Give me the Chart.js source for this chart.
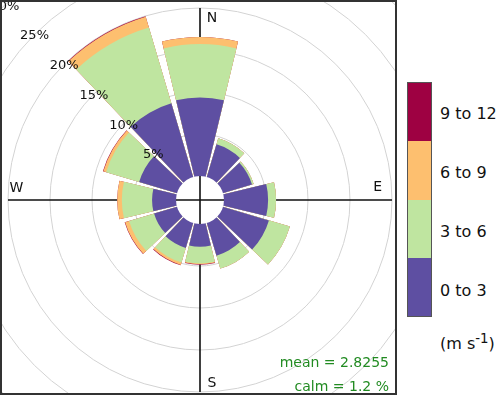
<!DOCTYPE html>
<html>
<head>
<meta charset="utf-8">
<script src="https://cdn.jsdelivr.net/npm/chart.js@4.4.1/dist/chart.umd.min.js"></script>
<style>
html,body{margin:0;padding:0;background:#fff;width:498px;height:399px;overflow:hidden;font-family:"DejaVu Sans",sans-serif;}
#plot{position:absolute;left:0;top:0;width:397px;height:395px;border:2px solid #333;box-sizing:border-box;overflow:hidden;background:#fff;}
#wrap{position:absolute;left:-78px;top:-78px;width:552px;height:552px;}
#stats{position:absolute;right:6px;top:348px;text-align:right;color:#228B22;font-size:14px;line-height:24px;white-space:pre;}
.seg{position:absolute;left:407px;width:25px;box-sizing:border-box;border-left:1px solid #555;border-right:1px solid #555;}
.lab{position:absolute;left:440px;font-size:16px;color:#111;white-space:nowrap;line-height:18px;}
</style>
</head>
<body>
<div id="plot"><div id="wrap"><canvas id="c" width="552" height="552"></canvas></div>
<div id="stats"></div></div>
<div id="legend"></div>
<script>
// ---- data ----
const directions = [0, 30, 60, 90, 120, 150, 180, 210, 240, 270, 300, 330];
const speedBins = ['0 to 3', '3 to 6', '6 to 9', '9 to 12'];
const binColors = ['#5E4FA2', '#BFE5A0', '#FDBF6F', '#9E0142'];
const freq0to3  = [9.35, 4.05, 3.6, 5.25, 5.7, 4.05, 2.7, 3.1, 2.85, 2.85, 4.7, 9.15];
const freq3to6  = [6.35, 0.75, 0.2, 0.95, 2.6, 1.6, 2.0, 1.8, 3.1, 3.6, 4.1, 9.4];
const freq6to9  = [0.85, 0, 0, 0, 0, 0, 0.1, 0.3, 0.5, 0.55, 0.35, 1.35];
const freq9to12 = [0, 0, 0, 0, 0, 0, 0.05, 0.05, 0.05, 0, 0.05, 0.06];
const gridTicks = [5, 10, 15, 20, 25, 30];
const tickLabels = ['5%', '10%', '15%', '20%', '25%', '30%'];
const cardinals = ['N', 'E', 'S', 'W'];
const meanText = 'mean = 2.8255';
const calmText = 'calm = 1.2 %';
const unitText = '(m s<sup>-1</sup>)';

// ---- styling constants ----
const PETAL = 27, GAP = 3;          // degrees
const R_MIN = -2.857, R_MAX = 30;   // radial offset creates the calm hole
const AXIS_EXT = 20;                // cross lines extend to this %

const bins = [freq0to3, freq3to6, freq6to9, freq9to12];
const cum = bins.map((b, k) => directions.map((d, i) => {
  let s = 0; for (let j = 0; j <= k; j++) s += bins[j][i]; return s;
}));
const labels = [];
directions.forEach(d => { labels.push(String(d)); labels.push(''); });
const datasets = cum.map((vals, k) => {
  const data = [];
  vals.forEach(v => { data.push(v); data.push(0); });
  return {
    label: speedBins[k],
    data,
    backgroundColor: ctx => (ctx.dataIndex % 2 ? 'rgba(0,0,0,0)' : binColors[k]),
    borderWidth: 0,
    angle: ctx => (ctx.dataIndex % 2 ? GAP : PETAL)
  };
});

function cross(ctx, s, r) {
  ctx.save();
  ctx.strokeStyle = '#111';
  ctx.lineWidth = 1.6;
  ctx.beginPath();
  ctx.moveTo(s.xCenter, s.yCenter - r); ctx.lineTo(s.xCenter, s.yCenter + r);
  ctx.moveTo(s.xCenter - r, s.yCenter); ctx.lineTo(s.xCenter + r, s.yCenter);
  ctx.stroke();
  ctx.restore();
}

const decor = {
  id: 'decor',
  beforeDatasetsDraw(chart) {
    const s = chart.scales.r;
    cross(chart.ctx, s, s.getDistanceFromCenterForValue(AXIS_EXT));
  },
  afterDatasetsDraw(chart) {
    const s = chart.scales.r, ctx = chart.ctx;
    const cx = s.xCenter, cy = s.yCenter;
    const r0 = s.getDistanceFromCenterForValue(0);
    ctx.save();
    ctx.fillStyle = '#fff';
    ctx.beginPath(); ctx.arc(cx, cy, r0, 0, Math.PI * 2); ctx.fill();
    ctx.restore();
    cross(ctx, s, r0);
    ctx.save();
    ctx.fillStyle = '#111';
    ctx.font = '13px "DejaVu Sans", sans-serif';
    ctx.textAlign = 'center';
    ctx.textBaseline = 'middle';
    const a = Math.PI / 4;
    gridTicks.forEach((v, i) => {
      const r = s.getDistanceFromCenterForValue(v);
      ctx.fillText(tickLabels[i], cx - r * Math.sin(a), cy - r * Math.cos(a) + 1.5);
    });
    ctx.font = '14px "DejaVu Sans", sans-serif';
    const d = s.getDistanceFromCenterForValue(19);
    ctx.fillText(cardinals[0], cx + 12, cy - d + 2);
    ctx.fillText(cardinals[1], cx + d - 6, cy - 13);
    ctx.fillText(cardinals[2], cx + 12, cy + d);
    ctx.fillText(cardinals[3], cx - d, cy - 12);
    ctx.restore();
  }
};

new Chart(document.getElementById('c'), {
  type: 'polarArea',
  data: { labels, datasets },
  options: {
    responsive: false,
    animation: false,
    events: [],
    layout: { padding: 0 },
    plugins: { legend: { display: false }, tooltip: { enabled: false } },
    scales: {
      r: {
        min: R_MIN,
        max: R_MAX,
        startAngle: -(PETAL / 2),
        ticks: { display: false },
        afterBuildTicks: sc => { sc.ticks = [0].concat(gridTicks).map(v => ({ value: v })); },
        grid: { circular: true, lineWidth: 1, color: c => (c.tick && c.tick.value > 0 ? '#D3D3D3' : 'rgba(0,0,0,0)') },
        angleLines: { display: false },
        pointLabels: { display: false }
      }
    }
  },
  plugins: [decor]
});

// ---- stats text ----
document.getElementById('stats').textContent = meanText + '\n' + calmText;

// ---- colour key ----
const leg = document.getElementById('legend');
const top0 = 82, segH = 58.75;
for (let k = speedBins.length - 1, j = 0; k >= 0; k--, j++) {
  const seg = document.createElement('div');
  seg.className = 'seg';
  seg.style.top = (top0 + j * segH) + 'px';
  seg.style.height = segH + 'px';
  seg.style.background = binColors[k];
  if (j === 0) seg.style.borderTop = '1px solid #555';
  if (k === 0) seg.style.borderBottom = '1px solid #555';
  leg.appendChild(seg);
  const lab = document.createElement('div');
  lab.className = 'lab';
  lab.textContent = speedBins[k];
  lab.style.top = (top0 + j * segH + segH / 2 - 6) + 'px';
  leg.appendChild(lab);
}
const u = document.createElement('div');
u.className = 'lab';
u.innerHTML = unitText;
u.style.top = '330px';
leg.appendChild(u);
</script>
</body>
</html>
